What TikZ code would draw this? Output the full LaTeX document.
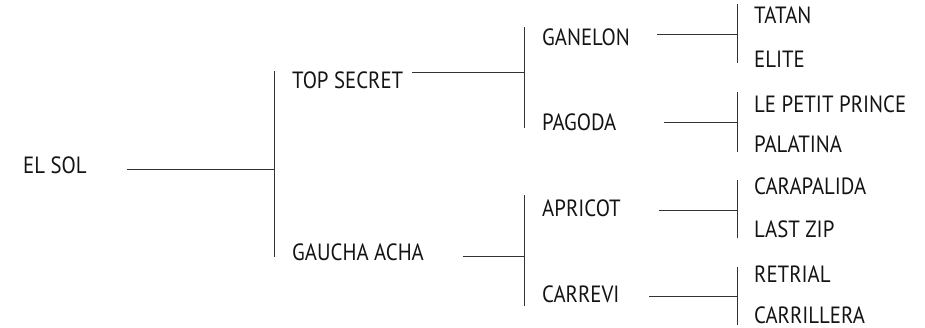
\documentclass[tikz,border=0pt]{standalone}
\usepackage{fontspec}
\setmainfont[FakeStretch=0.885]{PT Sans}
\begin{document}
\begin{tikzpicture}[x=1pt,y=-1pt,
  lbl/.style={anchor=base west,inner sep=0pt,text=black!92,font=\fontsize{23.5}{26}\selectfont},
  conn/.style={draw=black!80,line width=1pt}]
\useasboundingbox (0,0) rectangle (925,327);
% labels
\node[lbl] (elsol) at (23,173) {EL SOL};
\node[lbl] (top) at (292,88) {TOP SECRET};
\node[lbl] (gau) at (292,260) {GAUCHA ACHA};
\node[lbl] (gan) at (542,45) {GANELON};
\node[lbl] (pag) at (542,130) {PAGODA};
\node[lbl] (apr) at (542,216) {APRICOT};
\node[lbl] (car) at (542,302) {CARREVI};
\node[lbl] (tat) at (754,23) {TATAN};
\node[lbl] (eli) at (754,67) {ELITE};
\node[lbl] (lpp) at (754,112) {LE PETIT PRINCE};
\node[lbl] (pal) at (754,152) {PALATINA};
\node[lbl] (cpl) at (754,194) {CARAPALIDA};
\node[lbl] (lzp) at (754,237) {LAST ZIP};
\node[lbl] (ret) at (754,282) {RETRIAL};
\node[lbl] (crl) at (754,323.5) {CARRILLERA};
% bars
\coordinate (b0t) at (274,71);  \coordinate (b0b) at (274,257);
\coordinate (b1t) at (524,27);  \coordinate (b1b) at (524,128);
\coordinate (b2t) at (524,195); \coordinate (b2b) at (524,306);
\coordinate (b3t) at (737,4);   \coordinate (b3b) at (737,63);
\coordinate (b4t) at (737,92);  \coordinate (b4b) at (737,152);
\coordinate (b5t) at (737,180); \coordinate (b5b) at (737,238);
\coordinate (b6t) at (737,267); \coordinate (b6b) at (737,325);
\foreach \i in {0,...,6} {\draw[conn] (b\i t) -- (b\i b);}
% horizontal connectors
\coordinate (s0) at (127,169); \coordinate (s1) at (412,72); \coordinate (s2) at (463,256);
\coordinate (s3) at (657,34);  \coordinate (s4) at (664,122); \coordinate (s5) at (659,210);
\coordinate (s6) at (649,296);
\draw[conn] (s0) -- (s0 -| b0t);
\draw[conn] (s1) -- (s1 -| b1t);
\draw[conn] (s2) -- (s2 -| b2t);
\draw[conn] (s3) -- (s3 -| b3t);
\draw[conn] (s4) -- (s4 -| b4t);
\draw[conn] (s5) -- (s5 -| b5t);
\draw[conn] (s6) -- (s6 -| b6t);
\end{tikzpicture}
\end{document}
